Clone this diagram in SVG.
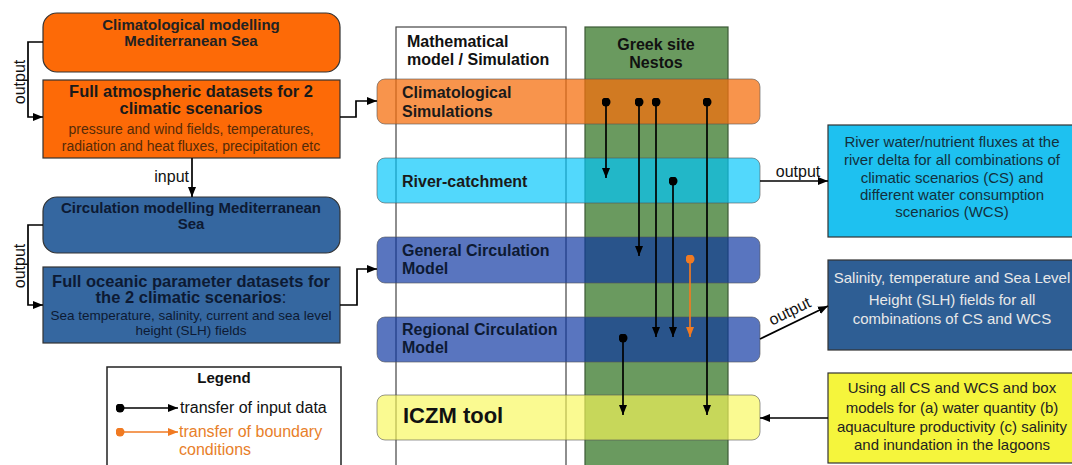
<svg xmlns="http://www.w3.org/2000/svg" width="1072" height="465" viewBox="0 0 1072 465">
<defs>
<style>
text{font-family:"Liberation Sans",Arial,sans-serif;}
.b{font-weight:bold;}
.box{stroke:#333;stroke-width:1.2;}
.or{fill:#fd6a07;}
.bl{fill:#3567a0;}
.band{stroke:#555;stroke-width:1;stroke-opacity:0.6;}
.ln{fill:none;stroke:#000;stroke-width:1.7;}
.lo{fill:none;stroke:#f07a22;stroke-width:1.7;}
</style>
<marker id="ah" viewBox="0 0 10 10" refX="10" refY="5" markerWidth="10" markerHeight="10" markerUnits="userSpaceOnUse" orient="auto"><path d="M0,1 L10,5 L0,9 z" fill="#000"/></marker>
<marker id="ao" viewBox="0 0 10 10" refX="10" refY="5" markerWidth="10" markerHeight="10" markerUnits="userSpaceOnUse" orient="auto"><path d="M0,1 L10,5 L0,9 z" fill="#f07a22"/></marker>
<marker id="dot" viewBox="0 0 10 10" refX="5" refY="5" markerWidth="9" markerHeight="9" markerUnits="userSpaceOnUse"><circle cx="5" cy="5" r="5" fill="#000"/></marker>
<marker id="doto" viewBox="0 0 10 10" refX="5" refY="5" markerWidth="9" markerHeight="9" markerUnits="userSpaceOnUse"><circle cx="5" cy="5" r="5" fill="#f07a22"/></marker>
</defs>
<rect width="1072" height="465" fill="#fff"/>

<g id="col-math">
<rect x="396" y="27" width="170" height="450" fill="#fff" stroke="#444" stroke-width="1.2"/>
<text class="b" x="407" y="47" font-size="16" fill="#111">Mathematical</text>
<text class="b" x="407" y="65" font-size="16" fill="#111">model / Simulation</text>
</g>
<g id="col-greek">
<rect x="585" y="27" width="143" height="450" fill="#6a9a5f" stroke="#3c5a36" stroke-width="1.2"/>
<text class="b" x="656" y="50" font-size="16" fill="#111" text-anchor="middle">Greek site</text>
<text class="b" x="656" y="68" font-size="16" fill="#111" text-anchor="middle">Nestos</text>
</g>

<g id="band-clim">
<rect class="band" x="377" y="79" width="383" height="45" rx="8" fill="#f56f0d" fill-opacity="0.74"/>
<text class="b" x="402" y="98" font-size="16" fill="#1a1a1a">Climatological</text>
<text class="b" x="402" y="117" font-size="16" fill="#1a1a1a">Simulations</text>
</g>
<g id="band-river">
<rect class="band" x="377" y="158" width="383" height="45" rx="8" fill="#00c6fa" fill-opacity="0.68"/>
<text class="b" x="402" y="187" font-size="16" fill="#1a1a1a">River-catchment</text>
</g>
<g id="band-gcm">
<rect class="band" x="377" y="237" width="383" height="46" rx="8" fill="#0a33a0" fill-opacity="0.68"/>
<text class="b" x="402" y="256" font-size="16" fill="#0d1a33">General Circulation</text>
<text class="b" x="402" y="274" font-size="16" fill="#0d1a33">Model</text>
</g>
<g id="band-rcm">
<rect class="band" x="377" y="317" width="383" height="45" rx="8" fill="#0a33a0" fill-opacity="0.68"/>
<text class="b" x="402" y="335" font-size="16" fill="#0d1a33">Regional Circulation</text>
<text class="b" x="402" y="353" font-size="16" fill="#0d1a33">Model</text>
</g>
<g id="band-iczm">
<rect class="band" x="377" y="395" width="383" height="45" rx="8" fill="#f8f858" fill-opacity="0.66"/>
<text class="b" x="403" y="423" font-size="22" fill="#111">ICZM tool</text>
</g>

<g id="clim-modelling">
<rect class="box or" x="43" y="13" width="297" height="59" rx="14"/>
<text class="b" x="191" y="30" font-size="15" fill="#222" text-anchor="middle">Climatological modelling</text>
<text class="b" x="191" y="46" font-size="15" fill="#222" text-anchor="middle">Mediterranean Sea</text>
</g>
<g id="atmos-datasets">
<rect class="box or" x="43" y="80" width="297" height="78"/>
<text class="b" x="191" y="97" font-size="16.5" fill="#1a1a1a" text-anchor="middle">Full atmospheric datasets for 2</text>
<text class="b" x="191" y="114" font-size="16.5" fill="#1a1a1a" text-anchor="middle">climatic scenarios</text>
<text x="191" y="134" font-size="14" fill="#552a08" text-anchor="middle">pressure and wind fields, temperatures,</text>
<text x="191" y="151" font-size="14" fill="#552a08" text-anchor="middle">radiation and heat fluxes, precipitation etc</text>
</g>
<g id="circ-modelling">
<rect class="box bl" x="43" y="197" width="297" height="56" rx="14"/>
<text class="b" x="191" y="213" font-size="15" fill="#0d1a33" text-anchor="middle">Circulation modelling Mediterranean</text>
<text class="b" x="191" y="229" font-size="15" fill="#0d1a33" text-anchor="middle">Sea</text>
</g>
<g id="ocean-datasets">
<rect class="box bl" x="43" y="267" width="297" height="76"/>
<text class="b" x="191" y="287" font-size="16.5" fill="#0d1a33" text-anchor="middle">Full oceanic parameter datasets for</text>
<text x="191" y="303" font-size="16.5" fill="#0d1a33" text-anchor="middle"><tspan class="b">the 2 climatic scenarios</tspan>:</text>
<text x="191" y="320" font-size="13.5" fill="#0d1a33" text-anchor="middle">Sea temperature, salinity, current and sea level</text>
<text x="191" y="335" font-size="13.5" fill="#0d1a33" text-anchor="middle">height (SLH) fields</text>
</g>

<g id="river-output">
<rect class="box" x="828" y="125" width="252" height="112" fill="#1ec1f0"/>
<text x="952" y="147" font-size="15" fill="#13303d" text-anchor="middle">River water/nutrient fluxes at the</text>
<text x="952" y="165" font-size="15" fill="#13303d" text-anchor="middle">river delta for all combinations of</text>
<text x="952" y="183" font-size="15" fill="#13303d" text-anchor="middle">climatic scenarios (CS) and</text>
<text x="952" y="200" font-size="15" fill="#13303d" text-anchor="middle">different water consumption</text>
<text x="952" y="217" font-size="15" fill="#13303d" text-anchor="middle">scenarios (WCS)</text>
</g>
<g id="salinity-output">
<rect class="box" x="828" y="260" width="252" height="90" fill="#2e5e94"/>
<text x="952" y="283" font-size="15" fill="#e8e8e8" text-anchor="middle">Salinity, temperature and Sea Level</text>
<text x="952" y="305" font-size="15" fill="#e8e8e8" text-anchor="middle">Height (SLH) fields for all</text>
<text x="952" y="324" font-size="15" fill="#e8e8e8" text-anchor="middle">combinations of CS and WCS</text>
</g>
<g id="iczm-input">
<rect class="box" x="828" y="373" width="252" height="90" fill="#f5f53c"/>
<text x="952" y="393" font-size="15" fill="#222" text-anchor="middle">Using all CS and WCS and box</text>
<text x="952" y="413" font-size="15" fill="#222" text-anchor="middle">models for (a) water quantity (b)</text>
<text x="952" y="432" font-size="15" fill="#222" text-anchor="middle">aquaculture productivity (c) salinity</text>
<text x="952" y="450" font-size="15" fill="#222" text-anchor="middle">and inundation in the lagoons</text>
</g>

<g id="legend">
<rect x="107" y="367" width="234" height="110" fill="#fff" stroke="#222" stroke-width="1.5"/>
<text class="b" x="224" y="383" font-size="15" fill="#111" text-anchor="middle">Legend</text>
<text x="180" y="413" font-size="16" fill="#111">transfer of input data</text>
<text x="179" y="437" font-size="16" fill="#e8802a">transfer of boundary</text>
<text x="179" y="455" font-size="16" fill="#e8802a">conditions</text>
</g>

<g id="connectors">
<path class="ln" d="M43,42 H28 V117 H43" marker-end="url(#ah)"/>
<path class="ln" d="M192,158 V197" marker-end="url(#ah)"/>
<path class="ln" d="M43,225 H28 V305 H43" marker-end="url(#ah)"/>
<path class="ln" d="M340,117 H356 V101 H377" marker-end="url(#ah)"/>
<path class="ln" d="M340,305 H357 V269 H377" marker-end="url(#ah)"/>
<path class="ln" d="M606,102 V178" marker-start="url(#dot)" marker-end="url(#ah)"/>
<path class="ln" d="M639,102 V256" marker-start="url(#dot)" marker-end="url(#ah)"/>
<path class="ln" d="M656,102 V337" marker-start="url(#dot)" marker-end="url(#ah)"/>
<path class="ln" d="M707,102 V415" marker-start="url(#dot)" marker-end="url(#ah)"/>
<path class="ln" d="M673,181 V337" marker-start="url(#dot)" marker-end="url(#ah)"/>
<path class="lo" d="M690,259 V337" marker-start="url(#doto)" marker-end="url(#ao)"/>
<path class="ln" d="M623,338 V415" marker-start="url(#dot)" marker-end="url(#ah)"/>
<path class="ln" d="M760,181 H828" marker-end="url(#ah)"/>
<path class="ln" d="M760,339 L828,306" marker-end="url(#ah)"/>
<path class="ln" d="M828,418 H760" marker-end="url(#ah)"/>
<path class="ln" d="M120,408 H178" marker-start="url(#dot)" marker-end="url(#ah)"/>
<path class="lo" d="M120,432 H178" marker-start="url(#doto)" marker-end="url(#ao)"/>
<text x="20" y="82" font-size="16" fill="#111" text-anchor="middle" transform="rotate(-90 20 82)" dy="5">output</text>
<text x="20" y="266" font-size="16" fill="#111" text-anchor="middle" transform="rotate(-90 20 266)" dy="5">output</text>
<text x="189" y="182" font-size="16" fill="#111" text-anchor="end">input</text>
<text x="798" y="177" font-size="16" fill="#111" text-anchor="middle">output</text>
<text x="792" y="316" font-size="16" fill="#111" text-anchor="middle" transform="rotate(-26 792 316)">output</text>
</g>
</svg>
